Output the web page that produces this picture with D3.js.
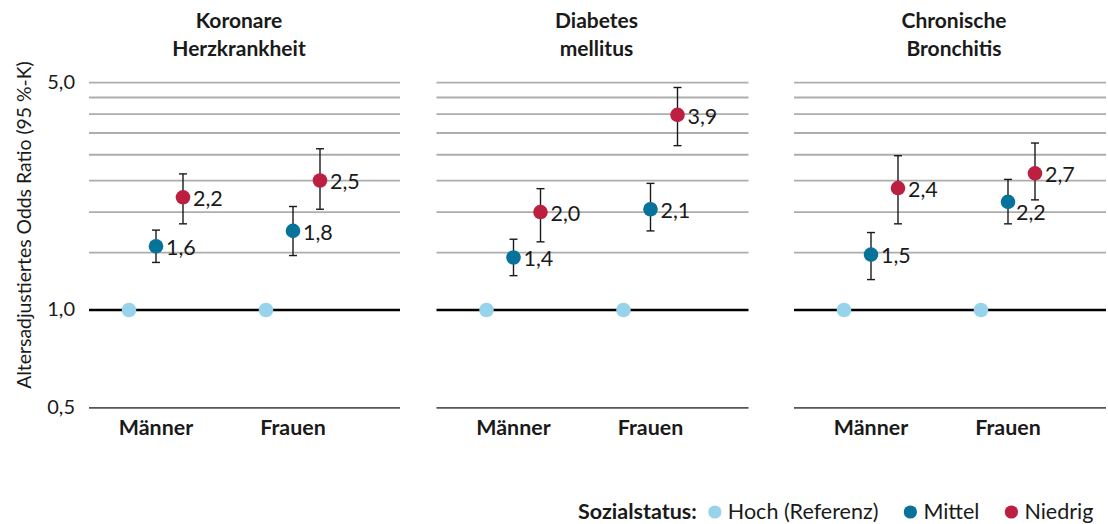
<!DOCTYPE html>
<html><head><meta charset="utf-8">
<script src="https://cdn.jsdelivr.net/npm/d3@7"></script>
<style>
html,body{margin:0;padding:0;background:#fff;}
svg{display:block;font-family:Lato,"Noto Sans",sans-serif;}
</style></head>
<body>
<svg id="chart" width="1108" height="524"></svg>
<script>
// ---------- data ----------
const diseases = ["Koronare Herzkrankheit", "Diabetes mellitus", "Chronische Bronchitis"];
const diseaseTitleLines = [["Koronare", "Herzkrankheit"], ["Diabetes", "mellitus"], ["Chronische", "Bronchitis"]];
const sexes = ["Männer", "Frauen"];
const statuses = ["Hoch (Referenz)", "Mittel", "Niedrig"];
// per disease: [Männer, Frauen]
const hochOR = [[1.0, 1.0], [1.0, 1.0], [1.0, 1.0]];
const mittelOR   = [[1.57, 1.75], [1.45, 2.04], [1.48, 2.15]];
const mittelLow  = [[1.40, 1.47], [1.275, 1.75], [1.24, 1.84]];
const mittelHigh = [[1.76, 2.08], [1.65, 2.45], [1.73, 2.52]];
const niedrigOR   = [[2.22, 2.50], [2.00, 3.98], [2.37, 2.63]];
const niedrigLow  = [[1.84, 2.04], [1.62, 3.20], [1.84, 2.18]];
const niedrigHigh = [[2.62, 3.13], [2.36, 4.83], [2.98, 3.26]];
const mittelLabels  = [["1,6", "1,8"], ["1,4", "2,1"], ["1,5", "2,2"]];
const niedrigLabels = [["2,2", "2,5"], ["2,0", "3,9"], ["2,4", "2,7"]];
const gridValues = [0.5, 1.0, 1.5, 2.0, 2.5, 3.0, 3.5, 4.0, 4.5, 5.0];
const tickValues = [0.5, 1.0, 5.0];
const tickLabels = ["0,5", "1,0", "5,0"];
const yTitle = "Altersadjustiertes Odds Ratio (95 %-K)";
const legendTitle = "Sozialstatus:";

// ---------- styles ----------
const colors = {"Hoch (Referenz)": "#98d3ec", "Mittel": "#07739a", "Niedrig": "#bd1f40"};
const textColor = "#1a1a1a";

const svg = d3.select("#chart");

// ---------- scales ----------
const y = d3.scaleLog().domain([0.5, 5]).range([407.9, 82.6]);
const panelX = d3.scaleBand().domain(diseases).range([79, 79 + 3 * 357.5]).paddingInner(0);
const sexX = d3.scalePoint().domain(sexes).range([77, 214]);
const statusX = d3.scalePoint().domain(statuses).range([-27, 27]);
const panelWidth = 312;

// build point records
const points = [];
diseases.forEach((dz, i) => {
  sexes.forEach((sx, j) => {
    points.push({dz, i, sx, status: "Hoch (Referenz)", v: hochOR[i][j]});
    points.push({dz, i, sx, status: "Mittel", v: mittelOR[i][j], lo: mittelLow[i][j], hi: mittelHigh[i][j], label: mittelLabels[i][j]});
    points.push({dz, i, sx, status: "Niedrig", v: niedrigOR[i][j], lo: niedrigLow[i][j], hi: niedrigHigh[i][j], label: niedrigLabels[i][j]});
  });
});
const px = d => panelX(d.dz) + sexX(d.sx) + statusX(d.status);

// ---------- panels ----------
diseases.forEach((dz, i) => {
  const g = svg.append("g");
  const x0 = panelX(dz) + (i === 0 ? 10 : 0);
  const x1 = panelX(dz) + panelWidth + (i === 0 ? 9 : 0);
  g.selectAll("line.grid").data(gridValues).join("line")
    .attr("x1", x0).attr("x2", x1)
    .attr("y1", d => y(d)).attr("y2", d => y(d))
    .attr("stroke", d => d === 1 ? "#000" : (d === 0.5 ? "#555" : "#adadad"))
    .attr("stroke-width", d => d === 1 ? 2.4 : 1.8);

  // title
  const t = g.append("text")
    .attr("x", panelX(dz) + 160).attr("y", 28)
    .attr("text-anchor", "middle").attr("font-weight", 700)
    .attr("font-size", 21).attr("fill", textColor);
  diseaseTitleLines[i].forEach((ln, k) => {
    t.append("tspan").attr("x", panelX(dz) + 160).attr("dy", k === 0 ? 0 : 28).text(ln);
  });

  // category labels
  g.selectAll("text.cat").data(sexes).join("text")
    .attr("x", s => panelX(dz) + sexX(s)).attr("y", 435)
    .attr("text-anchor", "middle").attr("font-weight", 700)
    .attr("font-size", 21.4).attr("fill", textColor)
    .text(s => s);
});

// ---------- y axis ----------
const yAxis = d3.axisLeft(y).tickValues(tickValues).tickSize(0).tickPadding(0)
  .tickFormat((d, k) => tickLabels[k]);
const ya = svg.append("g").attr("transform", "translate(75,0)").call(yAxis);
ya.select(".domain").remove();
ya.selectAll("text").attr("font-size", 20).attr("fill", textColor)
  .attr("font-family", "Lato, 'Noto Sans', sans-serif").attr("dy", "0.3em");

svg.append("text")
  .attr("transform", "translate(31,225) rotate(-90)")
  .attr("text-anchor", "middle").attr("font-size", 19.4).attr("fill", textColor)
  .text(yTitle);

// ---------- error bars ----------
const eb = points.filter(d => d.lo !== undefined);
const ebg = svg.append("g").attr("stroke", "#1a1a1a").attr("stroke-width", 1.4);
ebg.selectAll("line.v").data(eb).join("line")
  .attr("x1", px).attr("x2", px).attr("y1", d => y(d.lo)).attr("y2", d => y(d.hi));
ebg.selectAll("line.t").data(eb).join("line")
  .attr("x1", d => px(d) - 4).attr("x2", d => px(d) + 4).attr("y1", d => y(d.hi)).attr("y2", d => y(d.hi));
ebg.selectAll("line.b").data(eb).join("line")
  .attr("x1", d => px(d) - 4).attr("x2", d => px(d) + 4).attr("y1", d => y(d.lo)).attr("y2", d => y(d.lo));

// ---------- points ----------
svg.append("g").selectAll("circle").data(points).join("circle")
  .attr("cx", px).attr("cy", d => y(d.v)).attr("r", 7.3)
  .attr("fill", d => colors[d.status]);

// ---------- value labels ----------
// nudge for a label that would collide with a neighbouring point
const nudge = d => (d.dz === "Chronische Bronchitis" && d.sx === "Frauen" && d.status === "Mittel") ? {dx: -2, dy: 10} : {dx: 0, dy: 1};
svg.append("g").selectAll("text").data(points.filter(d => d.label)).join("text")
  .attr("x", d => px(d) + 10 + nudge(d).dx)
  .attr("y", d => y(d.v) + nudge(d).dy)
  .attr("dy", "0.36em")
  .attr("font-size", 21.5).attr("fill", textColor)
  .text(d => d.label);

// ---------- legend ----------
const lg = svg.append("g").attr("transform", "translate(578,519)");
const lt = lg.append("text").attr("font-weight", 700).attr("font-size", 21.5).attr("fill", textColor).text(legendTitle);
let cx = lt.node().getComputedTextLength() + 18;
statuses.forEach(s => {
  lg.append("circle").attr("cx", cx).attr("cy", -7).attr("r", 6.6).attr("fill", colors[s]);
  const tx = lg.append("text").attr("x", cx + 13).attr("font-size", 21.5).attr("fill", textColor).text(s);
  cx = cx + 13 + tx.node().getComputedTextLength() + 32;
});
</script>
</body></html>
